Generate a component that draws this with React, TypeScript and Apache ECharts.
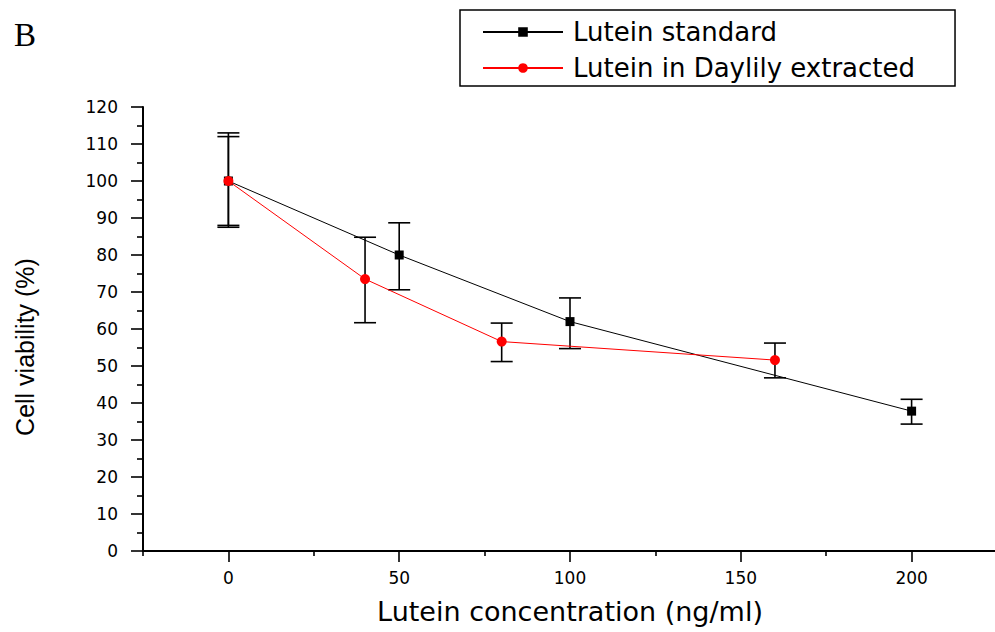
import React, { useEffect, useRef } from 'react';
import * as echarts from 'echarts';

// Lutein standard (black squares)
const standardX = [0, 50, 100, 200];
const standardY = [100, 80, 62, 37.8];
const standardLow = [87.5, 70.6, 54.7, 34.3];
const standardHigh = [113, 88.7, 68.4, 41];

// Lutein in Daylily extracted (red circles)
const extractX = [0, 40, 80, 160];
const extractY = [100, 73.5, 56.6, 51.6];
const extractLow = [88, 61.7, 51.2, 46.8];
const extractHigh = [112, 84.8, 61.6, 56.2];

const xMajorTicks = [0, 50, 100, 150, 200];
const xMinorTicks = [-25, 25, 75, 125, 175, 225];

const seriesNames = ['Lutein standard', 'Lutein in Daylily extracted'];
const xTitle = 'Lutein concentration (ng/ml)';
const yTitle = 'Cell viability (%)';
const panelLabel = 'B';

const FONT = 'DejaVu Sans';

function errorBarSeries(xs: number[], ys: number[], lo: number[], hi: number[], name: string) {
  return {
    type: 'custom',
    name,
    z: 1,
    silent: true,
    encode: { x: 0, y: [1, 2, 3] },
    data: xs.map((x, i) => [x, ys[i], lo[i], hi[i]]),
    renderItem: (_params: any, api: any) => {
      const x = api.value(0);
      const pLo = api.coord([x, api.value(2)]);
      const pHi = api.coord([x, api.value(3)]);
      const half = 11;
      const style = { stroke: '#000', lineWidth: 1.6, fill: 'none' };
      return {
        type: 'group',
        children: [
          { type: 'line', shape: { x1: pLo[0], y1: pLo[1], x2: pHi[0], y2: pHi[1] }, style },
          { type: 'line', shape: { x1: pHi[0] - half, y1: pHi[1], x2: pHi[0] + half, y2: pHi[1] }, style },
          { type: 'line', shape: { x1: pLo[0] - half, y1: pLo[1], x2: pLo[0] + half, y2: pLo[1] }, style },
        ],
      };
    },
  };
}

export default function App() {
  const ref = useRef<HTMLDivElement>(null);
  useEffect(() => {
    if (!ref.current) return;
    const chart = echarts.init(ref.current, null, { renderer: 'svg' });
    const axisLabelStyle = { fontFamily: FONT, fontSize: 17, color: '#000' };
    chart.setOption({
      animation: false,
      backgroundColor: '#ffffff',
      grid: { left: 143, top: 107, bottom: 81, right: -2, outerBoundsMode: 'none' },
      legend: {
        left: 460,
        top: 10,
        orient: 'vertical',
        data: seriesNames,
        itemWidth: 80,
        itemHeight: 12,
        itemGap: 6,
        padding: [7, 40, 3, 22],
        borderColor: '#000',
        borderWidth: 1.5,
        backgroundColor: '#fff',
        textStyle: { fontFamily: FONT, fontSize: 26, color: '#000', lineHeight: 30, padding: [0, 0, 0, 5] },
      },
      graphic: [
        {
          type: 'text',
          left: 14,
          top: 18,
          style: { text: panelLabel, fontFamily: 'Liberation Serif', fontSize: 33, fill: '#000' },
        },
        {
          type: 'text',
          x: 25,
          y: 347,
          rotation: Math.PI / 2,
          style: {
            text: yTitle,
            fontFamily: 'Liberation Sans',
            fontSize: 25,
            fill: '#000',
            align: 'center',
            verticalAlign: 'middle',
          },
        },
      ],
      xAxis: [
        {
          type: 'value',
          min: -25,
          max: 225,
          interval: 25,
          position: 'bottom',
          name: xTitle,
          nameLocation: 'middle',
          nameGap: 47,
          nameTextStyle: { fontFamily: FONT, fontSize: 27, color: '#000' },
          axisLine: { show: true, onZero: false, lineStyle: { color: '#000', width: 2 } },
          axisTick: { show: true, inside: false, length: 11, customValues: xMajorTicks, lineStyle: { color: '#000', width: 1.6 } },
          axisLabel: { show: true, customValues: xMajorTicks, margin: 18, ...axisLabelStyle },
          splitLine: { show: false },
        },
        {
          type: 'value',
          min: -25,
          max: 225,
          interval: 25,
          position: 'bottom',
          gridIndex: 0,
          axisLine: { show: false, onZero: false },
          axisTick: { show: true, inside: false, length: 5, customValues: xMinorTicks, lineStyle: { color: '#000', width: 1.6 } },
          axisLabel: { show: false },
          splitLine: { show: false },
        },
      ],
      yAxis: {
        type: 'value',
        min: 0,
        max: 120,
        interval: 10,
        axisLine: { show: true, onZero: false, lineStyle: { color: '#000', width: 2 } },
        axisTick: { show: true, inside: false, length: 12, lineStyle: { color: '#000', width: 1.6 } },
        minorTick: { show: true, splitNumber: 2, length: 6, lineStyle: { color: '#000', width: 1.6 } },
        axisLabel: { margin: 25, ...axisLabelStyle },
        splitLine: { show: false },
        minorSplitLine: { show: false },
      },
      series: [
        errorBarSeries(standardX, standardY, standardLow, standardHigh, 'err-standard'),
        errorBarSeries(extractX, extractY, extractLow, extractHigh, 'err-extract'),
        {
          type: 'line',
          name: seriesNames[0],
          z: 3,
          data: standardX.map((x, i) => [x, standardY[i]]),
          symbol: 'rect',
          symbolSize: 9,
          lineStyle: { color: '#000', width: 1 },
          itemStyle: { color: '#000' },
        },
        {
          type: 'line',
          name: seriesNames[1],
          z: 4,
          data: extractX.map((x, i) => [x, extractY[i]]),
          symbol: 'circle',
          symbolSize: 10,
          lineStyle: { color: '#ff0000', width: 1 },
          itemStyle: { color: '#ff0000' },
        },
      ],
    });
    return () => chart.dispose();
  }, []);
  return <div ref={ref} style={{ position: 'fixed', left: 0, top: 0, width: 995, height: 632 }} />;
}
